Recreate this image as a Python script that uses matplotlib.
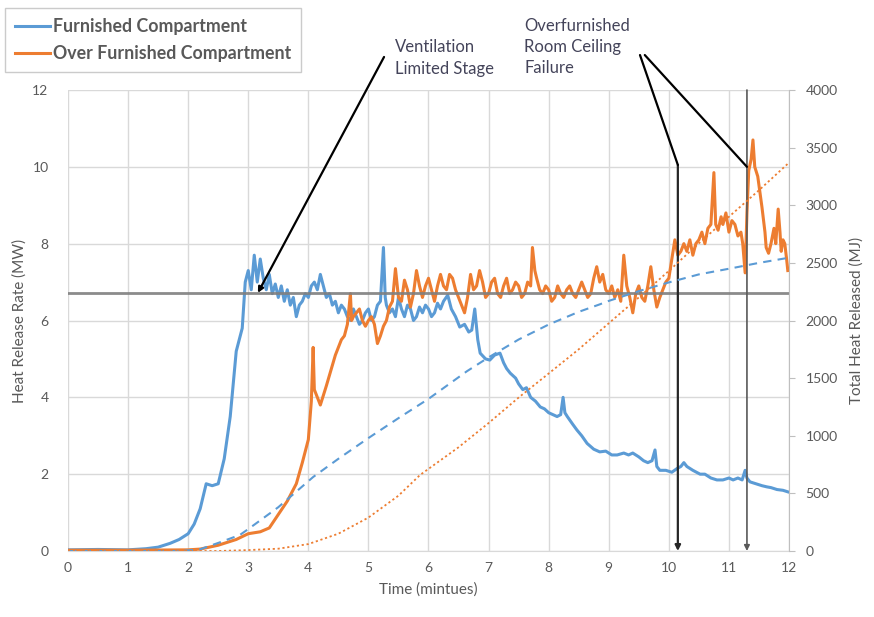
import matplotlib
matplotlib.use("Agg")
import matplotlib.pyplot as plt

plt.rcParams['font.family'] = ['Lato', 'DejaVu Sans']

# ---- data ----
t_furn = [0, 0.5, 1.0, 1.3, 1.5, 1.7, 1.85, 2.0, 2.1, 2.2, 2.3, 2.4, 2.5, 2.6, 2.7, 2.8, 2.9, 2.95,
          3.0, 3.05, 3.1, 3.15, 3.2, 3.25, 3.3, 3.35, 3.4, 3.45, 3.5, 3.55, 3.6, 3.65, 3.7, 3.75,
          3.8, 3.85, 3.9, 3.95, 4.0, 4.05, 4.1, 4.15, 4.2, 4.25, 4.3, 4.35, 4.4, 4.45, 4.5, 4.55,
          4.6, 4.65, 4.7, 4.75, 4.8, 4.85, 4.9, 4.95, 5.0, 5.05, 5.1, 5.15, 5.2, 5.25, 5.28, 5.3,
          5.35, 5.4, 5.45, 5.5, 5.55, 5.6, 5.65, 5.7, 5.75, 5.8, 5.85, 5.9, 5.95, 6.0, 6.05, 6.1,
          6.15, 6.2, 6.25, 6.32, 6.38, 6.45, 6.52, 6.6, 6.67, 6.72, 6.77, 6.82, 6.86, 6.95, 7.02,
          7.1, 7.19, 7.25, 7.3, 7.36, 7.45, 7.5, 7.57, 7.63, 7.7, 7.78, 7.86, 7.93, 8.0, 8.07,
          8.14, 8.2, 8.24, 8.27, 8.31, 8.4, 8.47, 8.55, 8.64, 8.75, 8.85, 8.95, 9.05, 9.14, 9.25,
          9.33, 9.4, 9.5, 9.58, 9.65, 9.72, 9.77, 9.8, 9.85, 9.95, 10.05, 10.14, 10.2, 10.25, 10.3,
          10.4, 10.52, 10.6, 10.7, 10.8, 10.9, 11.0, 11.07, 11.15, 11.22, 11.27, 11.3, 11.35,
          11.45, 11.55, 11.63, 11.7, 11.8, 11.9, 11.98]
hrr_furn = [0.03, 0.04, 0.03, 0.06, 0.1, 0.2, 0.3, 0.45, 0.7, 1.1, 1.75, 1.7, 1.75, 2.4, 3.5, 5.2, 5.8, 7.0,
            7.3, 6.8, 7.7, 7.0, 7.6, 7.1, 6.8, 7.2, 6.7, 6.95, 6.6, 6.9, 6.5, 6.8, 6.4, 6.6,
            6.1, 6.4, 6.5, 6.7, 6.6, 6.9, 7.0, 6.8, 7.2, 6.9, 6.6, 6.7, 6.4, 6.5, 6.2, 6.4,
            6.3, 6.1, 6.0, 6.3, 6.1, 5.9, 6.0, 6.2, 6.3, 6.0, 6.1, 6.4, 6.5, 7.9, 6.6, 6.4,
            6.2, 6.3, 6.1, 6.6, 6.3, 6.1, 6.4, 6.3, 6.0, 6.1, 6.35, 6.2, 6.4, 6.3, 6.1, 6.2,
            6.45, 6.3, 6.5, 6.66, 6.3, 6.1, 5.83, 5.9, 5.7, 5.75, 6.3, 5.5, 5.15, 5.0, 4.97,
            5.1, 5.15, 4.9, 4.75, 4.63, 4.5, 4.35, 4.2, 4.25, 4.0, 3.9, 3.75, 3.7, 3.6, 3.55,
            3.5, 3.55, 4.0, 3.6, 3.5, 3.3, 3.15, 3.0, 2.8, 2.65, 2.58, 2.6, 2.5, 2.5, 2.55,
            2.5, 2.55, 2.45, 2.35, 2.3, 2.35, 2.63, 2.2, 2.1, 2.1, 2.05, 2.15, 2.2, 2.3, 2.2,
            2.1, 2.0, 2.0, 1.9, 1.85, 1.85, 1.9, 1.85, 1.9, 1.85, 2.1, 1.9, 1.8,
            1.75, 1.7, 1.67, 1.65, 1.6, 1.58, 1.54]

t_over = [0, 1.0, 2.0, 2.2, 2.5, 2.8, 3.0, 3.2, 3.35, 3.5, 3.65, 3.8, 3.9, 4.0, 4.05, 4.08, 4.1, 4.2,
          4.3, 4.45, 4.5, 4.55, 4.6, 4.65, 4.7, 4.72, 4.75, 4.8, 4.85, 4.9, 4.95, 5.0, 5.05, 5.1,
          5.15, 5.2, 5.25, 5.3, 5.35, 5.4, 5.45, 5.5, 5.55, 5.6, 5.65, 5.7, 5.75, 5.8, 5.85, 5.9,
          5.95, 6.0, 6.05, 6.1, 6.15, 6.2, 6.25, 6.3, 6.35, 6.4, 6.45, 6.5, 6.55, 6.6, 6.65, 6.7,
          6.75, 6.8, 6.85, 6.9, 6.95, 7.0, 7.05, 7.1, 7.15, 7.2, 7.25, 7.3, 7.35, 7.4, 7.45, 7.5,
          7.55, 7.6, 7.65, 7.7, 7.73, 7.77, 7.8, 7.85, 7.9, 7.95, 8.0, 8.05, 8.1, 8.15, 8.2, 8.25,
          8.3, 8.35, 8.4, 8.45, 8.5, 8.55, 8.6, 8.65, 8.7, 8.75, 8.8, 8.85, 8.9, 8.95, 9.0, 9.05,
          9.1, 9.15, 9.2, 9.25, 9.3, 9.35, 9.4, 9.45, 9.5, 9.55, 9.6, 9.65, 9.7, 9.75, 9.8, 9.85,
          9.9, 9.95, 10.0, 10.05, 10.1, 10.15, 10.2, 10.25, 10.3, 10.35, 10.4, 10.45, 10.5, 10.55,
          10.6, 10.65, 10.7, 10.75, 10.78, 10.82, 10.87, 10.9, 10.95, 11.0, 11.05, 11.1, 11.15,
          11.2, 11.23, 11.27, 11.3, 11.33, 11.37, 11.4, 11.43, 11.48, 11.52, 11.55, 11.6, 11.62,
          11.66, 11.7, 11.75, 11.78, 11.82, 11.85, 11.87, 11.9, 11.93, 11.96, 11.98]
hrr_over = [0.02, 0.02, 0.03, 0.05, 0.15, 0.3, 0.45, 0.5, 0.6, 0.95, 1.3, 1.75, 2.3, 2.9, 3.9, 5.3, 4.2, 3.8,
            4.3, 5.1, 5.3, 5.5, 5.6, 5.9, 6.7, 6.0, 6.1, 6.2, 6.3, 6.0, 5.85, 6.0, 6.1, 5.9,
            5.4, 5.6, 5.85, 6.0, 6.35, 6.5, 7.35, 6.6, 6.5, 7.05, 6.8, 6.35, 6.7, 7.3, 6.9, 6.6,
            6.9, 7.1, 6.8, 6.5, 6.9, 7.2, 6.9, 6.8, 7.2, 7.1, 6.8, 6.6, 6.4, 6.2, 6.6, 7.2,
            6.8, 6.9, 7.3, 7.0, 6.6, 6.7, 7.0, 7.1, 6.7, 6.6, 6.9, 7.1, 6.7, 6.8, 7.0, 6.9,
            6.6, 6.7, 7.0, 6.9, 7.9, 7.3, 7.1, 6.8, 6.7, 6.9, 6.8, 6.5, 6.6, 6.9, 6.7, 6.6,
            6.8, 6.9, 6.7, 6.6, 6.8, 7.0, 6.8, 6.6, 6.7, 7.1, 7.4, 7.0, 7.2, 6.8, 6.7, 6.9,
            6.6, 6.8, 6.5, 7.7, 6.9, 6.6, 6.2, 6.7, 6.9, 6.6, 6.5, 6.9, 7.4, 6.8, 6.35, 6.6,
            6.8, 7.0, 7.1, 7.6, 8.1, 7.7, 7.8, 8.0, 7.8, 8.1, 7.7, 8.0, 8.1, 8.3,
            8.0, 8.4, 8.5, 9.85, 8.5, 8.35, 8.7, 8.5, 8.8, 8.3, 8.6, 8.5, 8.2,
            8.3, 8.0, 7.24, 8.8, 9.9, 10.2, 10.7, 10.0, 9.75, 9.3, 8.95, 8.3, 7.9,
            7.75, 8.0, 8.4, 8.0, 8.9, 8.3, 7.8, 8.1, 8.0, 7.6, 7.3]

t_thr_furn = [0, 1.8, 2.0, 2.2, 2.5, 2.86, 3.0, 3.5, 4.08, 4.5, 5.0, 5.53, 6.0, 6.64, 7.0, 7.5, 8.0,
              8.5, 8.85, 9.0, 9.5, 9.97, 10.5, 11.07, 11.5, 11.98]
thr_furn = [0, 0, 5, 15, 70, 139, 190, 380, 642, 800, 980, 1163, 1320, 1560, 1680, 1835, 1965,
            2075, 2140, 2170, 2255, 2326, 2400, 2456, 2500, 2543]

t_thr_over = [0, 2.5, 3.0, 3.5, 4.0, 4.5, 5.0, 5.5, 5.86, 6.5, 7.0, 7.52, 8.0, 8.5, 9.2, 9.5, 10.0,
              10.5, 11.0, 11.5, 11.98]
thr_over = [0, 0, 8, 20, 60, 150, 290, 480, 660, 900, 1110, 1340, 1540, 1750, 2066, 2200, 2430,
            2670, 2900, 3130, 3360]

vent_level = 6.72          # MW, horizontal reference line
failure_times = [10.15, 11.3]

legend_labels = ["Furnished Compartment", "Over Furnished Compartment"]
blue = "#5B9BD5"
orange = "#ED7D31"
txt = "#595959"

fig = plt.figure(figsize=(8.74, 6.17), dpi=100)
ax = fig.add_axes([68/874, 1-551/617, (789-68)/874, (551-90)/617])
ax2 = ax.twinx()

l1, = ax.plot(t_furn, hrr_furn, color=blue, lw=2.2, zorder=4)
l2, = ax.plot(t_over, hrr_over, color=orange, lw=2.2, zorder=5)
ax2.plot(t_thr_furn, thr_furn, color=blue, lw=1.5, ls=(0, (4, 3)), zorder=3)
ax2.plot(t_thr_over, thr_over, color=orange, lw=1.3, ls=(0, (1.2, 1.5)), zorder=3)

ax.set_xlim(0, 12)
ax.set_ylim(0, 12)
ax2.set_ylim(0, 4000)
ax.set_xticks(range(0, 13))
ax.set_yticks(range(0, 13, 2))
ax2.set_yticks(range(0, 4001, 500))
ax.grid(True, color="#D9D9D9", lw=1.0)
ax.set_axisbelow(True)

for a in (ax, ax2):
    for s in ("top", "left"):
        a.spines[s].set_visible(False)
    a.spines["bottom"].set_color("#D9D9D9")
ax.spines["right"].set_visible(False)
ax2.spines["right"].set_color("#BFBFBF")
ax2.spines["bottom"].set_visible(False)

ax.tick_params(axis="y", length=0, labelsize=10, labelcolor=txt, pad=14)
ax.tick_params(axis="x", length=0, labelsize=10, labelcolor=txt, pad=8)
ax2.tick_params(axis="y", length=4, color="#BFBFBF", labelsize=10, labelcolor=txt, pad=8)

ax.set_xlabel("Time (mintues)", fontsize=11, color=txt, labelpad=6)
ax.set_ylabel("Heat Release Rate (MW)", fontsize=11, color=txt, labelpad=4)
ax2.set_ylabel("Total Heat Released (MJ)", fontsize=11, color=txt, labelpad=8)

# horizontal ventilation-limited level
ax.axhline(vent_level, color="#7F7F7F", lw=2.0, zorder=6, alpha=0.9)

# vertical failure markers with arrows
ax.annotate("", xy=(failure_times[0], 0), xytext=(failure_times[0], 10.05),
            arrowprops=dict(arrowstyle="-|>", color="#262626", lw=1.6, mutation_scale=8,
                            shrinkA=0, shrinkB=0), zorder=7)
ax.annotate("", xy=(failure_times[1], 0), xytext=(failure_times[1], 12),
            arrowprops=dict(arrowstyle="-|>", color="#595959", lw=1.2, mutation_scale=8,
                            shrinkA=0, shrinkB=0), zorder=7)

# callout lines
ax.annotate("", xy=(3.16, vent_level), xytext=(5.26, 12.86), annotation_clip=False,
            arrowprops=dict(arrowstyle="-|>", color="black", lw=1.6, mutation_scale=8,
                            shrinkA=0, shrinkB=0), zorder=8)
ax.annotate("", xy=(failure_times[0], 10.05), xytext=(9.52, 12.91), annotation_clip=False,
            arrowprops=dict(arrowstyle="-", color="black", lw=1.6, shrinkA=0, shrinkB=0), zorder=8)
ax.annotate("", xy=(failure_times[1], 10.0), xytext=(9.6, 12.91), annotation_clip=False,
            arrowprops=dict(arrowstyle="-", color="black", lw=1.6, shrinkA=0, shrinkB=0), zorder=8)

fig.text(395/874, 1-58/617, "Ventilation\nLimited Stage", fontsize=12, color="#44445A",
         ha="left", va="center", linespacing=1.4)
fig.text(524/874, 1-47/617, "Overfurnished\nRoom Ceiling\nFailure", fontsize=12, color="#44445A",
         ha="left", va="center", linespacing=1.4)

leg = fig.legend([l1, l2], legend_labels, loc="upper left",
                 bbox_to_anchor=(5/874, 1-8/617), frameon=True, fancybox=False,
                 edgecolor="#BFBFBF", fontsize=12.8, handlelength=2.0, handletextpad=0.15,
                 borderpad=0.55, labelspacing=0.6, borderaxespad=0)
leg.get_frame().set_linewidth(1.0)
for t in leg.get_texts():
    t.set_color("#595959")
    t.set_fontweight("bold")

fig.savefig("out.png", dpi=100)
